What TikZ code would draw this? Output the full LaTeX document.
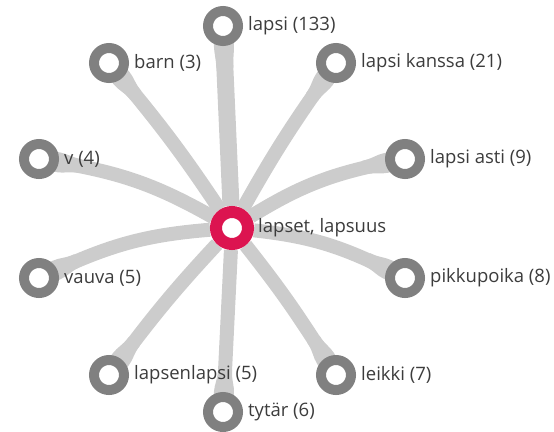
\documentclass[tikz,border=0pt]{standalone}
\usepackage{fontspec}
\setmainfont{Open Sans}
\usetikzlibrary{calc,positioning,backgrounds}
\definecolor{hubred}{RGB}{220,20,80}
\definecolor{ringgray}{RGB}{128,128,128}
\definecolor{spokegray}{RGB}{204,204,204}
\definecolor{textgray}{RGB}{60,60,60}
\tikzset{
  hub/.style={circle, draw=hubred, line width=12pt, fill=white, minimum size=32pt, inner sep=0pt},
  leaf/.style={circle, draw=ringgray, line width=10pt, fill=white, minimum size=30pt, inner sep=0pt},
  lbl/.style={text=textgray, font=\fontsize{18.5}{20}\selectfont, inner sep=0pt},
  spoke/.style={draw=spokegray, fill=spokegray}
}
% bent spoke from the hub to a leaf, flaring out at the leaf: #1 leaf, #2 half width, #3 bend
\def\spokeshape#1#2#3{%
  \pgfmathsetmacro\ra{90-(#3)}\pgfmathsetmacro\rb{-90-(#3)}\pgfmathsetmacro\rc{0-(#3)}
  \draw[spoke, fill=none, line width=2*#2] (ctr) to[bend left=#3] (#1);
  \fill[spokegray] ($(#1)!42pt!\rc:(ctr)!#2!90:(#1)$)
    .. controls ($(#1)!32pt!\rc:(ctr)!#2!90:(#1)$) and ($(#1)!27pt!\rc:(ctr)!10pt!90:(#1)$) .. ($(#1)!20pt!\rc:(ctr)!10pt!90:(#1)$)
    -- ($(#1)!10pt!\rb:(ctr)$) -- ($(#1)!10pt!\ra:(ctr)$)
    -- ($(#1)!20pt!\rc:(ctr)!10pt!-90:(#1)$)
    .. controls ($(#1)!27pt!\rc:(ctr)!10pt!-90:(#1)$) and ($(#1)!32pt!\rc:(ctr)!#2!-90:(#1)$) .. ($(#1)!42pt!\rc:(ctr)!#2!-90:(#1)$) -- cycle;}

\begin{document}
\begin{tikzpicture}[x=1pt, y=-1pt]
			%%%%% START %%%%%
			\useasboundingbox (0, 0) rectangle (554, 431);
			
			\node[hub] (ctr) at (232, 228) {};
			\node[lbl, right=4pt of ctr] (tctr) {lapset, lapsuus};
			
			\node[leaf] (n1) at (223, 26) {};
			\node[lbl, right=5pt of n1] (t1) {lapsi (133)};
			\node[leaf] (n2) at (109, 63) {};
			\node[lbl, right=5pt of n2] (t2) {barn (3)};
			\node[leaf] (n3) at (336, 63) {};
			\node[lbl, right=5pt of n3] (t3) {lapsi kanssa (21)};
			\node[leaf] (n4) at (39, 159) {};
			\node[lbl, right=5pt of n4] (t4) {v (4)};
			\node[leaf] (n5) at (405, 159) {};
			\node[lbl, right=5pt of n5] (t5) {lapsi asti (9)};
			\node[leaf] (n6) at (39, 278) {};
			\node[lbl, right=5pt of n6] (t6) {vauva (5)};
			\node[leaf] (n7) at (405, 278) {};
			\node[lbl, right=5pt of n7] (t7) {pikkupoika (8)};
			\node[leaf] (n8) at (109, 375) {};
			\node[lbl, right=5pt of n8] (t8) {lapsenlapsi (5)};
			\node[leaf] (n9) at (336, 375) {};
			\node[lbl, right=5pt of n9] (t9) {leikki (7)};
			\node[leaf] (n10) at (223, 412) {};
			\node[lbl, right=5pt of n10] (t10) {tytär (6)};
			
			\begin{pgfonlayer}{background}
			\spokeshape{n1}{8.5pt}{0}
			\foreach \n/\b in {n2/-3,n3/3,n4/-10,n5/10,n6/-10,n7/10,n8/-3,n9/3,n10/0}{
				\spokeshape{\n}{7pt}{\b}
			}
			\end{pgfonlayer}
			
			%%%%% END %%%%%
\end{tikzpicture}
\end{document}
